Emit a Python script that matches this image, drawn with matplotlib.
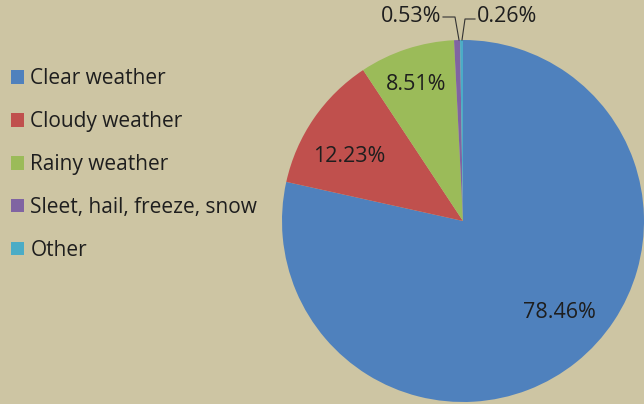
import matplotlib.pyplot as plt

# data
categories = ['Clear weather', 'Cloudy weather', 'Rainy weather',
              'Sleet, hail, freeze, snow', 'Other']
shares = [78.46, 12.23, 8.51, 0.53, 0.26]
colors = ['#4F81BD', '#C0504D', '#9BBB59', '#8064A2', '#4BACC6']

bg = '#CDC5A3'
txt = '#1E1E1E'
fs_leg = 15
fs_lab = 15.5
plt.rcParams['font.family'] = ['Open Sans', 'DejaVu Sans']

fig = plt.figure(figsize=(6.44, 4.04), dpi=100, facecolor=bg)

# pie axes: center (463,221) px, radius 181 px
W, H = 644, 404
cx, cy, r = 463, 221, 181
ax = fig.add_axes([(cx - r) / W, (H - cy - r) / H, 2 * r / W, 2 * r / H])
ax.set_facecolor(bg)
wedges, _ = ax.pie(shares, colors=colors, startangle=90, counterclock=False,
                   radius=1, wedgeprops=dict(linewidth=0))
ax.set_xlim(-1, 1)
ax.set_ylim(-1, 1)
ax.set_aspect('equal')
ax.axis('off')

def px(x, y):
    return (x - cx) / r, (cy - y) / r

label_pos = [px(559, 313), px(349, 156), px(416, 84)]
for val, (x, y) in zip(shares[:3], label_pos):
    ax.text(x, y, f'{val:.2f}%', ha='center', va='center', fontsize=fs_lab,
            color=txt)

# small slices with leader lines
x0, y0 = px(441, 17)
ax.text(x0, y0, f'{shares[3]:.2f}%', ha='right', va='center', fontsize=fs_lab,
        color=txt, clip_on=False)
pts = [px(443, 17), px(455, 17), px(459, 40)]
ax.plot([p[0] for p in pts], [p[1] for p in pts], color='#333333', lw=0.8,
        clip_on=False)

x1, y1 = px(477, 17)
ax.text(x1, y1, f'{shares[4]:.2f}%', ha='left', va='center', fontsize=fs_lab,
        color=txt, clip_on=False)
pts = [px(462, 40), px(465, 19), px(475, 19)]
ax.plot([p[0] for p in pts], [p[1] for p in pts], color='#333333', lw=0.8,
        clip_on=False)

leg = fig.legend(wedges, categories, loc='upper left',
                 bbox_to_anchor=(3 / W, 1 - 60 / H), frameon=False,
                 fontsize=fs_leg, handlelength=0.62, handleheight=0.62,
                 handletextpad=0.3, labelspacing=1.05, borderaxespad=0)
for t in leg.get_texts():
    t.set_color(txt)

fig.savefig('out.png', dpi=100, facecolor=bg)
